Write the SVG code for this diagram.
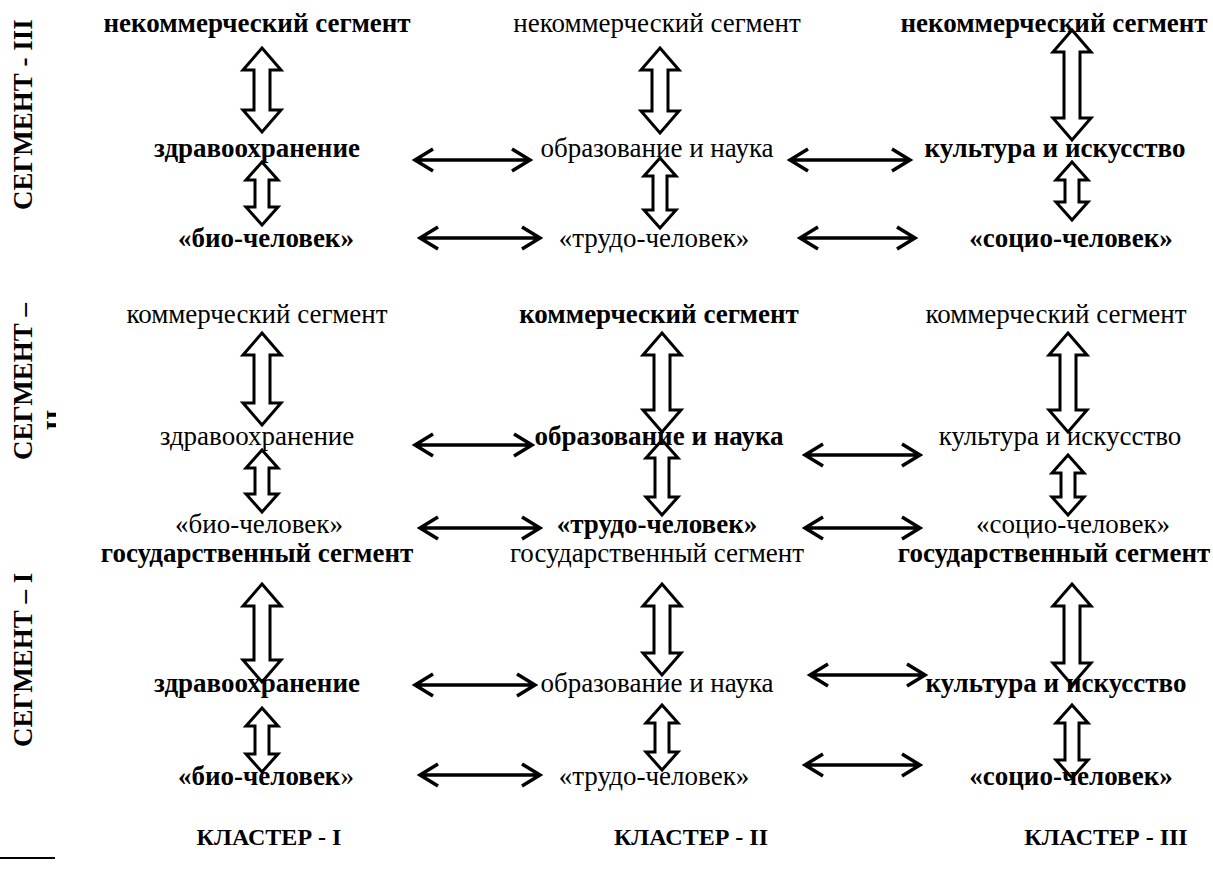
<svg xmlns="http://www.w3.org/2000/svg" width="1213" height="885" viewBox="0 0 1213 885">
<style>
text{font-family:"Liberation Serif","Times New Roman",serif;font-size:27px;fill:#000;text-anchor:middle}
.b{font-weight:bold}
.cl{font-weight:bold;font-size:24px}
.va{fill:#fff;stroke:#000;stroke-width:3;stroke-linejoin:miter}
.ha{fill:none;stroke:#000;stroke-width:3.5;stroke-linecap:butt;stroke-linejoin:miter}
.side{text-anchor:start;font-weight:bold}
</style>
<defs>
<clipPath id="clipII"><rect x="0" y="380" width="56" height="80"/></clipPath>
</defs>
<rect width="1213" height="885" fill="#fff"/>

<g id="connectors">
<!-- vertical hollow double arrows -->
<path class="va" d="M262,48 L281,70 L270,70 L270,110 L281,110 L262,132 L243,110 L254,110 L254,70 L243,70 Z"/>
<path class="va" d="M262,162 L278,180 L269,180 L269,207 L278,207 L262,225 L246,207 L255,207 L255,180 L246,180 Z"/>
<path class="va" d="M660,48 L679,70 L668,70 L668,111 L679,111 L660,133 L641,111 L652,111 L652,70 L641,70 Z"/>
<path class="va" d="M660,158 L676,176 L667,176 L667,210 L676,210 L660,228 L644,210 L653,210 L653,176 L644,176 Z"/>
<path class="va" d="M1072,30 L1091,52 L1080,52 L1080,118 L1091,118 L1072,140 L1053,118 L1064,118 L1064,52 L1053,52 Z"/>
<path class="va" d="M1072,162 L1088,180 L1079,180 L1079,202 L1088,202 L1072,220 L1056,202 L1065,202 L1065,180 L1056,180 Z"/>

<path class="va" d="M262,333 L281,355 L270,355 L270,403 L281,403 L262,425 L243,403 L254,403 L254,355 L243,355 Z"/>
<path class="va" d="M262,450 L278,468 L269,468 L269,494 L278,494 L262,512 L246,494 L255,494 L255,468 L246,468 Z"/>
<path class="va" d="M662,333 L681,355 L670,355 L670,410 L681,410 L662,432 L643,410 L654,410 L654,355 L643,355 Z"/>
<path class="va" d="M662,440 L678,458 L669,458 L669,497 L678,497 L662,515 L646,497 L655,497 L655,458 L646,458 Z"/>
<path class="va" d="M1068,333 L1087,355 L1076,355 L1076,410 L1087,410 L1068,432 L1049,410 L1060,410 L1060,355 L1049,355 Z"/>
<path class="va" d="M1068,455 L1084,473 L1075,473 L1075,497 L1084,497 L1068,515 L1052,497 L1061,497 L1061,473 L1052,473 Z"/>

<path class="va" d="M262,584 L281,606 L270,606 L270,660 L281,660 L262,682 L243,660 L254,660 L254,606 L243,606 Z"/>
<path class="va" d="M262,708 L278,726 L269,726 L269,754 L278,754 L262,772 L246,754 L255,754 L255,726 L246,726 Z"/>
<path class="va" d="M662,584 L681,606 L670,606 L670,653 L681,653 L662,675 L643,653 L654,653 L654,606 L643,606 Z"/>
<path class="va" d="M662,705 L678,723 L669,723 L669,752 L678,752 L662,770 L646,752 L655,752 L655,723 L646,723 Z"/>
<path class="va" d="M1072,584 L1091,606 L1080,606 L1080,663 L1091,663 L1072,685 L1053,663 L1064,663 L1064,606 L1053,606 Z"/>
<path class="va" d="M1072,705 L1088,723 L1079,723 L1079,760 L1088,760 L1072,778 L1056,760 L1065,760 L1065,723 L1056,723 Z"/>

<!-- horizontal double arrows -->
<path class="ha" d="M415,160 L530,160 M433,149 L415,160 L433,171 M512,149 L530,160 L512,171"/>
<path class="ha" d="M790,160 L910,160 M808,149 L790,160 L808,171 M892,149 L910,160 L892,171"/>
<path class="ha" d="M420,238 L540,238 M438,227 L420,238 L438,249 M522,227 L540,238 L522,249"/>
<path class="ha" d="M800,238 L915,238 M818,227 L800,238 L818,249 M897,227 L915,238 L897,249"/>

<path class="ha" d="M415,445 L532,445 M433,434 L415,445 L433,456 M514,434 L532,445 L514,456"/>
<path class="ha" d="M805,455 L920,455 M823,444 L805,455 L823,466 M902,444 L920,455 L902,466"/>
<path class="ha" d="M420,528 L540,528 M438,517 L420,528 L438,539 M522,517 L540,528 L522,539"/>
<path class="ha" d="M805,528 L920,528 M823,517 L805,528 L823,539 M902,517 L920,528 L902,539"/>

<path class="ha" d="M415,685 L535,685 M433,674 L415,685 L433,696 M517,674 L535,685 L517,696"/>
<path class="ha" d="M810,675 L925,675 M828,664 L810,675 L828,686 M907,664 L925,675 L907,686"/>
<path class="ha" d="M420,775 L540,775 M438,764 L420,775 L438,786 M522,764 L540,775 L522,786"/>
<path class="ha" d="M805,765 L920,765 M823,754 L805,765 L823,776 M902,754 L920,765 L902,776"/>
</g>

<g id="side-labels">
<text class="side" transform="translate(32,210) rotate(-90)">СЕГМЕНТ - III</text>
<text class="side" transform="translate(32,460) rotate(-90)">СЕГМЕНТ –</text>
<g clip-path="url(#clipII)"><text class="b" transform="translate(65,420) rotate(-90)">II</text></g>
<text class="side" transform="translate(32,747) rotate(-90)">СЕГМЕНТ – I</text>
</g>

<g id="row3">
<g id="n3-1-seg"><text class="b" x="257" y="32">некоммерческий сегмент</text></g>
<g id="n3-2-seg"><text x="657" y="32">некоммерческий сегмент</text></g>
<g id="n3-3-seg"><text class="b" x="1054" y="32">некоммерческий сегмент</text></g>
<g id="n3-1-mid"><text class="b" x="257" y="157">здравоохранение</text></g>
<g id="n3-2-mid"><text x="657" y="157">образование и наука</text></g>
<g id="n3-3-mid"><text class="b" x="1055" y="157">культура и искусство</text></g>
<g id="n3-1-bot"><text class="b" x="266" y="247">«био-человек»</text></g>
<g id="n3-2-bot"><text x="654" y="247">«трудо-человек»</text></g>
<g id="n3-3-bot"><text class="b" x="1071" y="247">«социо-человек»</text></g>
</g>

<g id="row2">
<g id="n2-1-seg"><text x="257" y="323">коммерческий сегмент</text></g>
<g id="n2-2-seg"><text class="b" x="659" y="323">коммерческий сегмент</text></g>
<g id="n2-3-seg"><text x="1056" y="323">коммерческий сегмент</text></g>
<g id="n2-1-mid"><text x="257" y="445">здравоохранение</text></g>
<g id="n2-2-mid"><text class="b" x="659" y="445">образование и наука</text></g>
<g id="n2-3-mid"><text x="1060" y="445">культура и искусство</text></g>
<g id="n2-1-bot"><text x="259" y="533">«био-человек»</text></g>
<g id="n2-2-bot"><text class="b" x="657" y="533">«трудо-человек»</text></g>
<g id="n2-3-bot"><text x="1073" y="533">«социо-человек»</text></g>
</g>

<g id="row1">
<g id="n1-1-seg"><text class="b" x="257" y="562">государственный сегмент</text></g>
<g id="n1-2-seg"><text x="657" y="562">государственный сегмент</text></g>
<g id="n1-3-seg"><text class="b" x="1054" y="562">государственный сегмент</text></g>
<g id="n1-1-mid"><text class="b" x="257" y="692">здравоохранение</text></g>
<g id="n1-2-mid"><text x="657" y="692">образование и наука</text></g>
<g id="n1-3-mid"><text class="b" x="1056" y="692">культура и искусство</text></g>
<g id="n1-1-bot"><text x="266" y="785"><tspan class="b">«био-человек</tspan>»</text></g>
<g id="n1-2-bot"><text x="654" y="785">«трудо-человек»</text></g>
<g id="n1-3-bot"><text class="b" x="1071" y="785">«социо-человек»</text></g>
</g>

<g id="clusters">
<text class="cl" x="269" y="845">КЛАСТЕР - I</text>
<text class="cl" x="691" y="845">КЛАСТЕР - II</text>
<text class="cl" x="1106" y="845">КЛАСТЕР - III</text>
</g>

<line x1="0" y1="858" x2="55" y2="858" stroke="#000" stroke-width="2"/>
</svg>
